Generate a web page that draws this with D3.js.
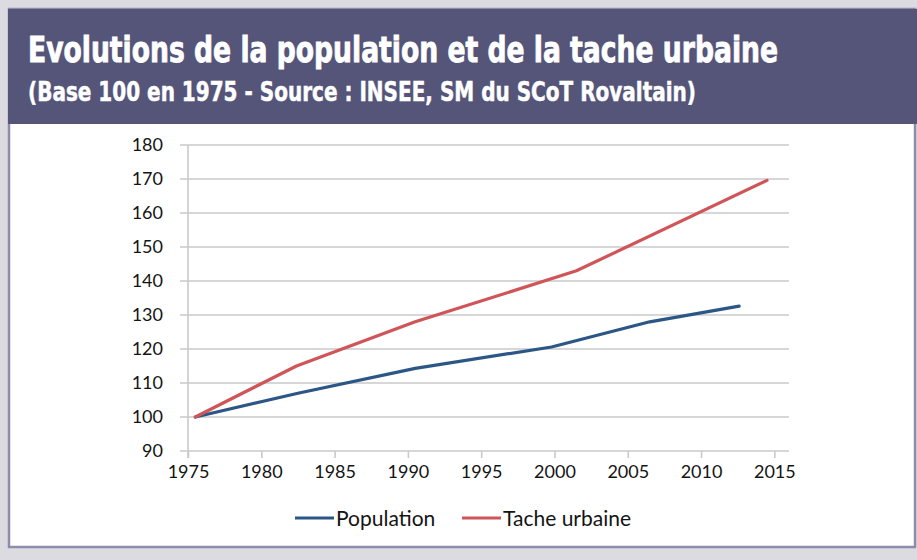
<!DOCTYPE html>
<html>
<head>
<meta charset="utf-8">
<script src="https://cdn.jsdelivr.net/npm/d3@7/dist/d3.min.js"></script>
<style>
  html, body { margin: 0; padding: 0; background: #dcdbe2; }
  svg { display: block; }
</style>
</head>
<body>
<svg id="chart" width="917" height="560"></svg>
<script>
// Index values, base 100 in 1975
const titleText = "Evolutions de la population et de la tache urbaine";
const subtitleText = "(Base 100 en 1975 - Source : INSEE, SM du SCoT Rovaltain)";

const populationYears  = [1975.5, 1982.5, 1990.5, 1999.8, 2006.5, 2012.6];
const populationValues = [100, 107, 114.3, 120.6, 128, 132.6];

const urbanYears  = [1975.5, 1982.4, 1990.5, 2001.5, 2014.5];
const urbanValues = [100, 115, 128, 143, 169.6];

const xTicks = [1975, 1980, 1985, 1990, 1995, 2000, 2005, 2010, 2015];
const yTicks = [90, 100, 110, 120, 130, 140, 150, 160, 170, 180];

const seriesNames = ["Population", "Tache urbaine"];
const seriesColors = ["#2b5686", "#cf5558"];

const svg = d3.select("#chart");

// panel and header band
svg.append("rect").attr("x", 9).attr("y", 9).attr("width", 906).attr("height", 538)
  .attr("fill", "#ffffff").attr("stroke", "#8d8cab").attr("stroke-width", 2.5);
svg.append("rect").attr("x", 8).attr("y", 9).attr("width", 909).attr("height", 115)
  .attr("fill", "#55557a");

// condensed headline: narrow glyphs stretched vertically
const titleFont = "'DejaVu Sans Condensed', 'DejaVu Sans', sans-serif";
svg.append("text").attr("transform", "translate(28,62) scale(1,1.38)")
  .attr("font-family", titleFont).attr("font-weight", "bold")
  .attr("font-size", 26).attr("fill", "#ffffff")
  .attr("stroke", "#ffffff").attr("stroke-width", 0.6)
  .attr("textLength", 750).attr("lengthAdjust", "spacingAndGlyphs")
  .text(titleText);
svg.append("text").attr("transform", "translate(28,101) scale(1,1.38)")
  .attr("font-family", titleFont).attr("font-weight", "bold")
  .attr("font-size", 19.5).attr("fill", "#ffffff")
  .attr("stroke", "#ffffff").attr("stroke-width", 0.35)
  .attr("textLength", 668).attr("lengthAdjust", "spacingAndGlyphs")
  .text(subtitleText);

// plot area scales
const x = d3.scaleLinear().domain([1975, 2016]).range([188, 789]);
const y = d3.scaleLinear().domain([90, 180]).range([451, 145]);
const labelFont = "Lato, 'Open Sans', sans-serif";

const g = svg.append("g");

// horizontal gridlines
g.append("g").selectAll("line").data(yTicks).join("line")
  .attr("x1", 180).attr("x2", 789)
  .attr("y1", d => y(d)).attr("y2", d => y(d))
  .attr("stroke", "#cacaca").attr("stroke-width", 1.6);

// vertical axis line
g.append("line").attr("x1", x(1975)).attr("x2", x(1975))
  .attr("y1", y(180)).attr("y2", y(90) + 7)
  .attr("stroke", "#cacaca").attr("stroke-width", 1.6);

// x axis
const xAxis = d3.axisBottom(x).tickValues(xTicks).tickSize(7).tickFormat(d3.format("d"));
const xg = g.append("g").attr("transform", `translate(0,${y(90)})`).call(xAxis);
xg.select(".domain").remove();
xg.selectAll(".tick line").attr("stroke", "#cacaca").attr("stroke-width", 1.6);
xg.selectAll(".tick text").attr("font-family", labelFont).attr("font-size", 18)
  .attr("fill", "#141414").attr("dy", "0.95em");

// y axis labels
const yAxis = d3.axisLeft(y).tickValues(yTicks).tickSize(0).tickPadding(25);
const yg = g.append("g").attr("transform", `translate(${x(1975)},0)`).call(yAxis);
yg.select(".domain").remove();
yg.selectAll(".tick text").attr("font-family", labelFont).attr("font-size", 18)
  .attr("fill", "#141414");

// series lines
const line = d3.line().x(d => x(d[0])).y(d => y(d[1]));
const series = [
  d3.zip(populationYears, populationValues),
  d3.zip(urbanYears, urbanValues)
];
g.append("g").selectAll("path").data(series).join("path")
  .attr("d", line).attr("fill", "none")
  .attr("stroke", (d, i) => seriesColors[i]).attr("stroke-width", 3.2)
  .attr("stroke-linecap", "round").attr("stroke-linejoin", "round");

// legend
const legendX = [295, 462];
const lg = svg.append("g").selectAll("g").data(seriesNames).join("g")
  .attr("transform", (d, i) => `translate(${legendX[i]},518)`);
lg.append("line").attr("x1", 0).attr("x2", 39).attr("y1", 0).attr("y2", 0)
  .attr("stroke", (d, i) => seriesColors[i]).attr("stroke-width", 3.2);
lg.append("text").attr("x", 41).attr("y", 0).attr("dy", "0.36em")
  .attr("font-family", labelFont).attr("font-size", 21).attr("fill", "#141414")
  .text(d => d);
</script>
</body>
</html>
